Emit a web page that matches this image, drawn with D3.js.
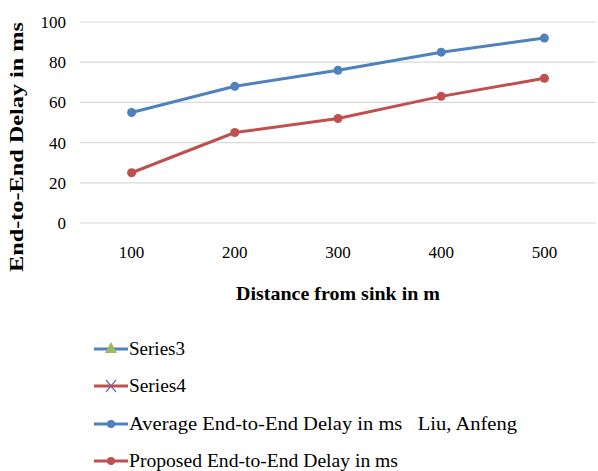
<!DOCTYPE html>
<html>
<head>
<meta charset="utf-8">
<script src="https://cdn.jsdelivr.net/npm/d3@7"></script>
<style>
  body { margin: 0; background: #fff; }
  svg text { font-family: "Times New Roman", Times, "Liberation Serif", "DejaVu Serif", "Noto Serif", serif !important; }
</style>
</head>
<body>
<div id="chart"></div>
<script>
// data
var distances = ["100", "200", "300", "400", "500"];
var liuDelay = [55, 68, 76, 85, 92];
var proposedDelay = [25, 45, 52, 63, 72];
var yTicks = [0, 20, 40, 60, 80, 100];
var legendNames = ["Series3", "Series4",
                   "Average End-to-End Delay in ms   Liu, Anfeng",
                   "Proposed End-to-End Delay in ms"];

var blue = "#4F81BD", red = "#C0504D";

var W = 598, H = 471;
var margin = {top: 22, right: 2, bottom: 248, left: 80};
var width = W - margin.left - margin.right;
var height = H - margin.top - margin.bottom;

var svg = d3.select("#chart").append("svg")
    .attr("width", W).attr("height", H);

var g = svg.append("g")
    .attr("transform", "translate(" + margin.left + "," + margin.top + ")");

var x = d3.scaleBand().domain(distances).range([0, width]);
var y = d3.scaleLinear().domain([0, 100]).range([height, 0]);

// gridlines
g.selectAll(".grid").data(yTicks).enter().append("line")
    .attr("x1", 0).attr("x2", width)
    .attr("y1", function(d) { return y(d); })
    .attr("y2", function(d) { return y(d); })
    .attr("stroke", "#D9D9D9").attr("stroke-width", 1.2);

// y axis labels
var yAxis = g.append("g").call(d3.axisLeft(y).tickValues(yTicks).tickSize(0).tickPadding(14));
yAxis.select(".domain").remove();
yAxis.selectAll("text").attr("font-size", 17).attr("fill", "#000");

// x axis labels
var xAxis = g.append("g").attr("transform", "translate(0," + height + ")")
    .call(d3.axisBottom(x).tickSize(0).tickPadding(23));
xAxis.select(".domain").remove();
xAxis.selectAll("text").attr("font-size", 17).attr("fill", "#000");

// axis titles
svg.append("text")
    .attr("transform", "translate(23," + (margin.top + 125) + ") rotate(-90)")
    .attr("text-anchor", "middle")
    .attr("font-size", 19).attr("font-weight", "bold")
    .attr("textLength", 250).attr("lengthAdjust", "spacingAndGlyphs")
    .text("End-to-End Delay in ms");

svg.append("text")
    .attr("x", margin.left + width / 2).attr("y", 300)
    .attr("text-anchor", "middle")
    .attr("font-size", 19).attr("font-weight", "bold")
    .attr("textLength", 204).attr("lengthAdjust", "spacingAndGlyphs")
    .text("Distance from sink in m");

// lines
var line = d3.line()
    .x(function(d, i) { return x(distances[i]) + x.bandwidth() / 2; })
    .y(function(d) { return y(d); });

[[liuDelay, blue], [proposedDelay, red]].forEach(function(s) {
  g.append("path").datum(s[0])
      .attr("d", line)
      .attr("fill", "none").attr("stroke", s[1]).attr("stroke-width", 3);
  g.selectAll(null).data(s[0]).enter().append("circle")
      .attr("cx", function(d, i) { return x(distances[i]) + x.bandwidth() / 2; })
      .attr("cy", function(d) { return y(d); })
      .attr("r", 4.5).attr("fill", s[1]);
});

// legend
var legendY = [349, 386, 424, 461];
var lineColors = [blue, red, blue, red];
var leg = svg.selectAll(".leg").data(legendNames).enter().append("g")
    .attr("transform", function(d, i) { return "translate(94," + legendY[i] + ")"; });

leg.append("line")
    .attr("x1", 0).attr("x2", 34).attr("y1", 0).attr("y2", 0)
    .attr("stroke", function(d, i) { return lineColors[i]; })
    .attr("stroke-width", 3);

leg.append("text")
    .attr("x", 35).attr("y", 6)
    .attr("font-size", 19)
    .attr("textLength", function(d, i) { return [56, 57, 388, 269][i]; })
    .attr("lengthAdjust", "spacingAndGlyphs")
    .style("white-space", "pre")
    .text(function(d) { return d; });

// legend markers
leg.filter(function(d, i) { return i === 0; }).append("path")
    .attr("d", "M17,-7 L23,4 L11,4 Z").attr("fill", "#9BBB59");
leg.filter(function(d, i) { return i === 1; }).append("path")
    .attr("d", "M12,-6 L22,6 M22,-6 L12,6")
    .attr("stroke", "#8064A2").attr("stroke-width", 1.2);
leg.filter(function(d, i) { return i >= 2; }).append("circle")
    .attr("cx", 17).attr("cy", 0).attr("r", 4)
    .attr("fill", function(d, i) { return i === 0 ? blue : red; });
</script>
</body>
</html>
